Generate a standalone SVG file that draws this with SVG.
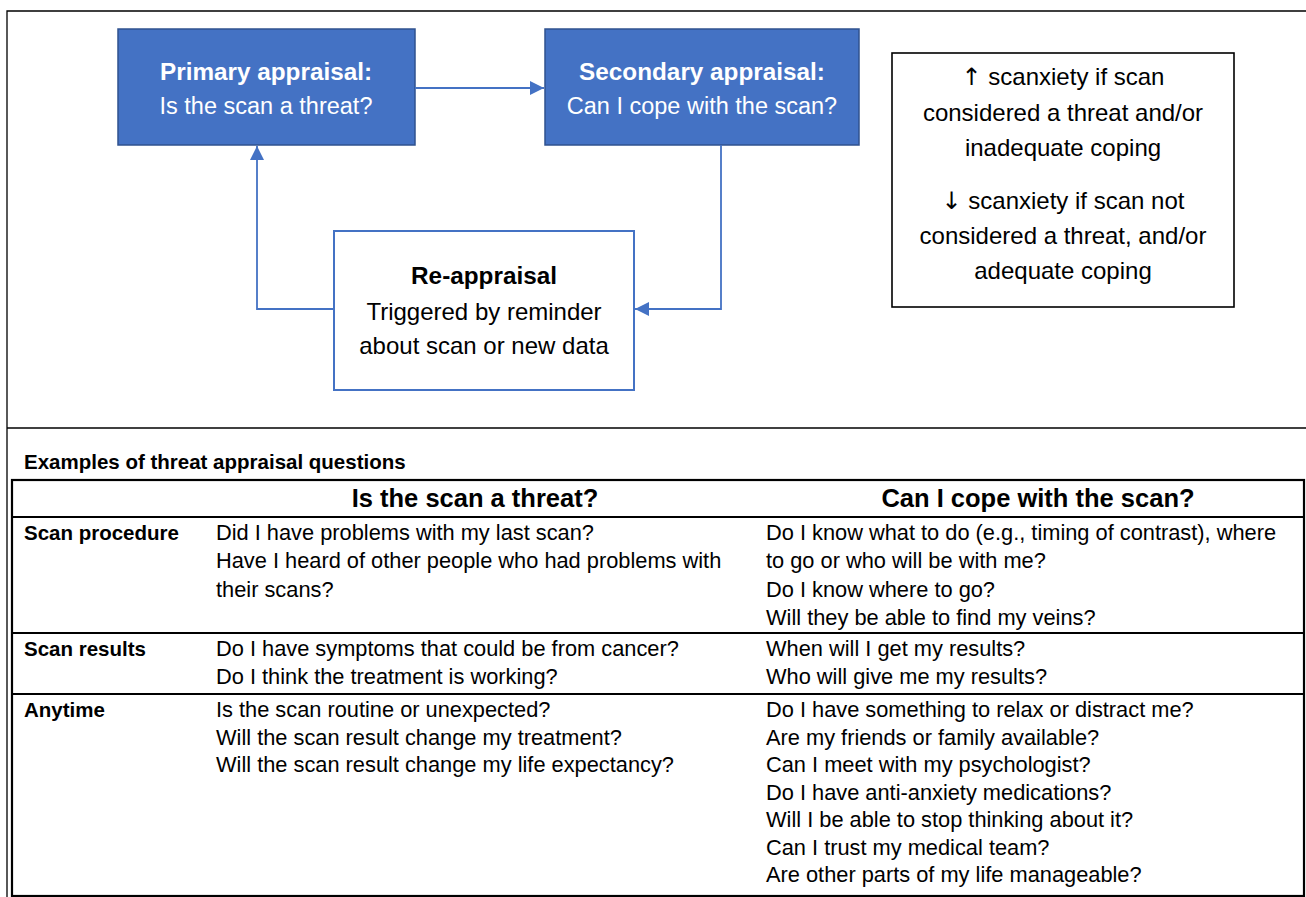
<svg xmlns="http://www.w3.org/2000/svg" width="1306" height="897" viewBox="0 0 1306 897">
<style>
text{font-family:"Liberation Sans",Arial,sans-serif;fill:#000}
.blue{fill:#4472C4;stroke:#2F528F;stroke-width:1.5}
.wt{fill:#fff}
.hb{font-size:24.3px;font-weight:bold}
.hr{font-size:23.5px}
.nt{font-size:24px}
.ar{font-family:"DejaVu Sans",sans-serif;fill:#000;font-weight:normal}
.frame{stroke:#000;stroke-width:1.3;fill:none}
.tb{stroke:#000;stroke-width:2.2;fill:none}
.lbl{font-size:20.5px;font-weight:bold}
.cell{font-size:21.8px}
.hd{font-size:25.5px;font-weight:bold}
.conn{stroke:#4472C4;stroke-width:1.8;fill:none}
</style>
<defs>
<marker id="arr" markerUnits="userSpaceOnUse" markerWidth="15" markerHeight="15" refX="14" refY="7" orient="auto">
<path d="M0,0 L14,7 L0,14 z" fill="#4472C4"/>
</marker>
</defs>
<rect width="1306" height="897" fill="#fff"/>
<g id="frame">
<path class="frame" d="M1306,11 H7 V897"/>
<path class="frame" d="M7,428 H1306"/>
</g>
<g id="primary">
<rect class="blue" x="118" y="29" width="297" height="116"/>
<text class="hb wt" x="266" y="80" text-anchor="middle">Primary appraisal:</text>
<text class="hr wt" x="266" y="114" text-anchor="middle">Is the scan a threat?</text>
</g>
<g id="secondary">
<rect class="blue" x="545" y="29" width="314" height="116"/>
<text class="hb wt" x="702" y="80" text-anchor="middle">Secondary appraisal:</text>
<text class="hr wt" x="702" y="114" text-anchor="middle">Can I cope with the scan?</text>
</g>
<g id="reappraisal">
<rect x="334" y="231" width="300" height="159" fill="#fff" stroke="#4472C4" stroke-width="2"/>
<text class="hb" x="484" y="284" text-anchor="middle">Re-appraisal</text>
<text class="nt" x="484" y="320" text-anchor="middle">Triggered by reminder</text>
<text class="nt" x="484" y="354" text-anchor="middle">about scan or new data</text>
</g>
<g id="note">
<rect x="892" y="53" width="342" height="254" fill="#fff" stroke="#000" stroke-width="1.6"/>
<text class="nt" x="1063" y="85" text-anchor="middle"><tspan class="ar">↑</tspan> scanxiety if scan</text>
<text class="nt" x="1063" y="121" text-anchor="middle">considered a threat and/or</text>
<text class="nt" x="1063" y="156" text-anchor="middle">inadequate coping</text>
<text class="nt" x="1063" y="209" text-anchor="middle"><tspan class="ar">↓</tspan> scanxiety if scan not</text>
<text class="nt" x="1063" y="244" text-anchor="middle">considered a threat, and/or</text>
<text class="nt" x="1063" y="279" text-anchor="middle">adequate coping</text>
</g>
<g id="connectors">
<path class="conn" d="M415,88 H544" marker-end="url(#arr)"/>
<path class="conn" d="M334,309 H257 V146" marker-end="url(#arr)"/>
<path class="conn" d="M721,145 V309 H635" marker-end="url(#arr)" stroke-width="1.4"/>
</g>
<g id="table-title">
<text class="lbl" x="24" y="469">Examples of threat appraisal questions</text>
</g>
<g id="table">
<rect class="tb" x="12" y="480" width="1292" height="416"/>
<path class="tb" d="M12,517 H1304 M12,633 H1304 M12,694 H1304"/>
<text class="hd" x="475" y="507" text-anchor="middle">Is the scan a threat?</text>
<text class="hd" x="1038" y="507" text-anchor="middle">Can I cope with the scan?</text>
</g>
<g id="row-scan-procedure">
<text class="lbl" x="24" y="540">Scan procedure</text>
<text class="cell" x="216" y="540">Did I have problems with my last scan?</text>
<text class="cell" x="216" y="568">Have I heard of other people who had problems with</text>
<text class="cell" x="216" y="596.5">their scans?</text>
<text class="cell" x="766" y="540">Do I know what to do (e.g., timing of contrast), where</text>
<text class="cell" x="766" y="568">to go or who will be with me?</text>
<text class="cell" x="766" y="596.5">Do I know where to go?</text>
<text class="cell" x="766" y="625">Will they be able to find my veins?</text>
</g>
<g id="row-scan-results">
<text class="lbl" x="24" y="656">Scan results</text>
<text class="cell" x="216" y="656">Do I have symptoms that could be from cancer?</text>
<text class="cell" x="216" y="684">Do I think the treatment is working?</text>
<text class="cell" x="766" y="656">When will I get my results?</text>
<text class="cell" x="766" y="684">Who will give me my results?</text>
</g>
<g id="row-anytime">
<text class="lbl" x="24" y="717">Anytime</text>
<text class="cell" x="216" y="717">Is the scan routine or unexpected?</text>
<text class="cell" x="216" y="744.5">Will the scan result change my treatment?</text>
<text class="cell" x="216" y="772">Will the scan result change my life expectancy?</text>
<text class="cell" x="766" y="717">Do I have something to relax or distract me?</text>
<text class="cell" x="766" y="744.5">Are my friends or family available?</text>
<text class="cell" x="766" y="772">Can I meet with my psychologist?</text>
<text class="cell" x="766" y="799.5">Do I have anti-anxiety medications?</text>
<text class="cell" x="766" y="827">Will I be able to stop thinking about it?</text>
<text class="cell" x="766" y="854.5">Can I trust my medical team?</text>
<text class="cell" x="766" y="882">Are other parts of my life manageable?</text>
</g>
</svg>
